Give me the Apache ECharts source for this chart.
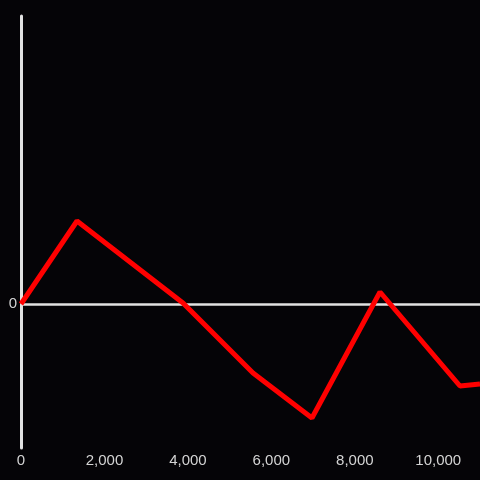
<!DOCTYPE html>
<html>
<head>
<meta charset="utf-8">
<script src="https://cdn.jsdelivr.net/npm/echarts@6/dist/echarts.min.js"></script>
<style>
  html, body { margin: 0; padding: 0; background: #050407; }
  #chart { width: 480px; height: 480px; }
</style>
</head>
<body>
<div id="chart"></div>
<script>
const xValues = [0, 1342, 3882, 5560, 6973, 8603, 10520, 11000];
const yValues = [0, 83, 1, -69, -114, 12, -82, -80];
const xTicks = [0, 2000, 4000, 6000, 8000, 10000];

const chart = echarts.init(document.getElementById('chart'));
const lineData = xValues.map((x, i) => [x, yValues[i]]);

chart.setOption({
  backgroundColor: '#050407',
  animation: false,
  grid: {
    left: 21,
    right: 0,
    top: 16,
    bottom: 32,
    outerBoundsMode: 'none'
  },
  xAxis: {
    type: 'value',
    min: 0,
    max: 11000,
    interval: 2000,
    position: 'bottom',
    axisLine: { show: false },
    axisTick: { show: false },
    splitLine: { show: false },
    axisLabel: {
      color: '#d4d4d4',
      fontFamily: 'Liberation Sans',
      fontSize: 15,
      margin: 5,
      showMaxLabel: false,
      formatter: v => (xTicks.includes(v) ? v.toLocaleString('en-US') : '')
    }
  },
  yAxis: {
    type: 'value',
    min: -144,
    max: 288,
    axisLine: {
      show: true,
      lineStyle: { color: '#e2e2e2', width: 3 }
    },
    axisTick: { show: false },
    splitLine: { show: false },
    axisLabel: {
      color: '#d4d4d4',
      fontFamily: 'Liberation Sans',
      fontSize: 15,
      margin: 4,
      formatter: v => (v === 0 ? '0' : '')
    }
  },
  series: [
    {
      type: 'line',
      data: lineData,
      showSymbol: false,
      lineStyle: { color: '#ff0000', width: 5 },
      z: 3,
      markLine: {
        silent: true,
        symbol: 'none',
        label: { show: false },
        lineStyle: { color: '#e2e2e2', width: 2.5, type: 'solid' },
        z: 1,
        data: [{ yAxis: 0 }]
      }
    }
  ]
});
</script>
</body>
</html>
